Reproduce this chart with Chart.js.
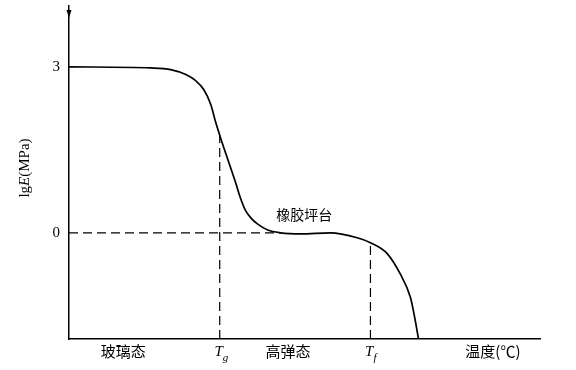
<!DOCTYPE html>
<html>
<head>
<meta charset="utf-8">
<script src="https://cdn.jsdelivr.net/npm/chart.js@4"></script>
<style>
  html, body { margin: 0; padding: 0; background: #fff; }
  #wrap { width: 576px; height: 370px; }
</style>
</head>
<body>
<div id="wrap"><canvas id="c"></canvas></div>
<script>
// modulus curve: temperature (arbitrary units) vs lgE
const temps = [0, 17.4, 21.6, 24.8, 26.9, 28.6, 30.1, 31.1, 32.2, 33.9, 35.4, 36.4, 37.5, 38.6, 40.0, 42.2, 44.9, 49.2, 55.5, 61.2, 64.0, 67.6, 70.3, 72.5, 73.5, 74.2]
const lgE = [3.0, 2.98, 2.95, 2.86, 2.75, 2.59, 2.32, 2.01, 1.71, 1.28, 0.90, 0.63, 0.40, 0.27, 0.16, 0.05, 0, -0.02, 0, -0.09, -0.18, -0.38, -0.74, -1.17, -1.58, -1.92]

const Tg = 32
const TgE = 1.77
const Tf = 64
const TfE = -0.18
const plateauEnd = 45

const yTicks = [3, 0]
const xMin = 0, xMax = 100, yMin = -1.92, yMax = 4.1

const bottomLabels = [
  { x: 11.5, text: "玻璃态" },
  { x: 46.5, text: "高弹态" },
  { x: 90, text: "温度(℃)" }
]

const cjk = "'Noto Sans CJK SC', sans-serif"
const serif = "'Liberation Serif', 'DejaVu Serif', serif"

const dashed = { borderColor: "#000", borderWidth: 1.2, borderDash: [9, 5], pointRadius: 0, fill: false, tension: 0 }

const textPlugin = {
  id: "texts",
  afterDraw(chart) {
    const ctx = chart.ctx
    const xs = chart.scales.x, ys = chart.scales.y
    const base = ys.getPixelForValue(yMin)
    ctx.save()
    ctx.fillStyle = "#000"
    ctx.strokeStyle = "#000"

    // arrow at top of y axis
    const ax = xs.getPixelForValue(xMin)
    const top = ys.getPixelForValue(yMax)
    ctx.beginPath()
    ctx.moveTo(ax, top + 12)
    ctx.lineTo(ax - 2.5, top + 4)
    ctx.lineTo(ax + 2.5, top + 4)
    ctx.closePath()
    ctx.fill()

    // y tick labels
    ctx.font = "15px " + serif
    ctx.textAlign = "right"
    ctx.textBaseline = "middle"
    yTicks.forEach(v => ctx.fillText(String(v), ax - 9, ys.getPixelForValue(v)))

    // bottom category labels
    ctx.font = "15px " + cjk
    ctx.textAlign = "center"
    ctx.textBaseline = "top"
    bottomLabels.forEach(l => ctx.fillText(l.text, xs.getPixelForValue(l.x), base + 5))

    // Tg and Tf
    const drawT = (xv, sub) => {
      const px = xs.getPixelForValue(xv)
      ctx.font = "italic 15px " + serif
      ctx.textAlign = "right"
      ctx.fillText("T", px + 3, base + 6)
      ctx.font = "italic 11px " + serif
      ctx.textAlign = "left"
      ctx.fillText(sub, px + 3, base + 14)
    }
    drawT(Tg, "g")
    drawT(Tf, "f")

    // plateau label
    ctx.font = "14px " + cjk
    ctx.textAlign = "left"
    ctx.textBaseline = "middle"
    ctx.fillText("橡胶坪台", xs.getPixelForValue(44), ys.getPixelForValue(0.32))

    // y axis title, rotated
    ctx.translate(25, 168)
    ctx.rotate(-Math.PI / 2)
    ctx.textBaseline = "middle"
    ctx.textAlign = "left"
    const parts = [["lg", "15px " + serif], ["E", "italic 15px " + serif], ["(MPa)", "15px " + serif]]
    let w = 0
    parts.forEach(p => { ctx.font = p[1]; w += ctx.measureText(p[0]).width })
    let x0 = -w / 2
    parts.forEach(p => { ctx.font = p[1]; ctx.fillText(p[0], x0, 0); x0 += ctx.measureText(p[0]).width })
    ctx.restore()
  }
}

new Chart(document.getElementById("c"), {
  type: "line",
  data: {
    datasets: [
      {
        data: temps.map((t, i) => ({ x: t, y: lgE[i] })),
        borderColor: "#000",
        borderWidth: 1.7,
        pointRadius: 0,
        fill: false,
        cubicInterpolationMode: "monotone"
      },
      { ...dashed, data: [{ x: xMin, y: 0 }, { x: plateauEnd, y: 0 }] },
      { ...dashed, data: [{ x: Tg, y: yMin }, { x: Tg, y: TgE }] },
      { ...dashed, data: [{ x: Tf, y: yMin }, { x: Tf, y: TfE }] }
    ]
  },
  options: {
    responsive: true,
    maintainAspectRatio: false,
    animation: false,
    layout: { padding: { left: 61, right: 36, top: 6, bottom: 23 } },
    plugins: { legend: { display: false }, tooltip: { enabled: false } },
    scales: {
      x: {
        type: "linear", min: xMin, max: xMax,
        grid: { display: false },
        ticks: { display: false },
        border: { display: true, color: "#000", width: 1.5 }
      },
      y: {
        type: "linear", min: yMin, max: yMax,
        grid: { display: false },
        ticks: { display: false },
        border: { display: true, color: "#000", width: 1.5 }
      }
    }
  },
  plugins: [textPlugin]
})
</script>
</body>
</html>
